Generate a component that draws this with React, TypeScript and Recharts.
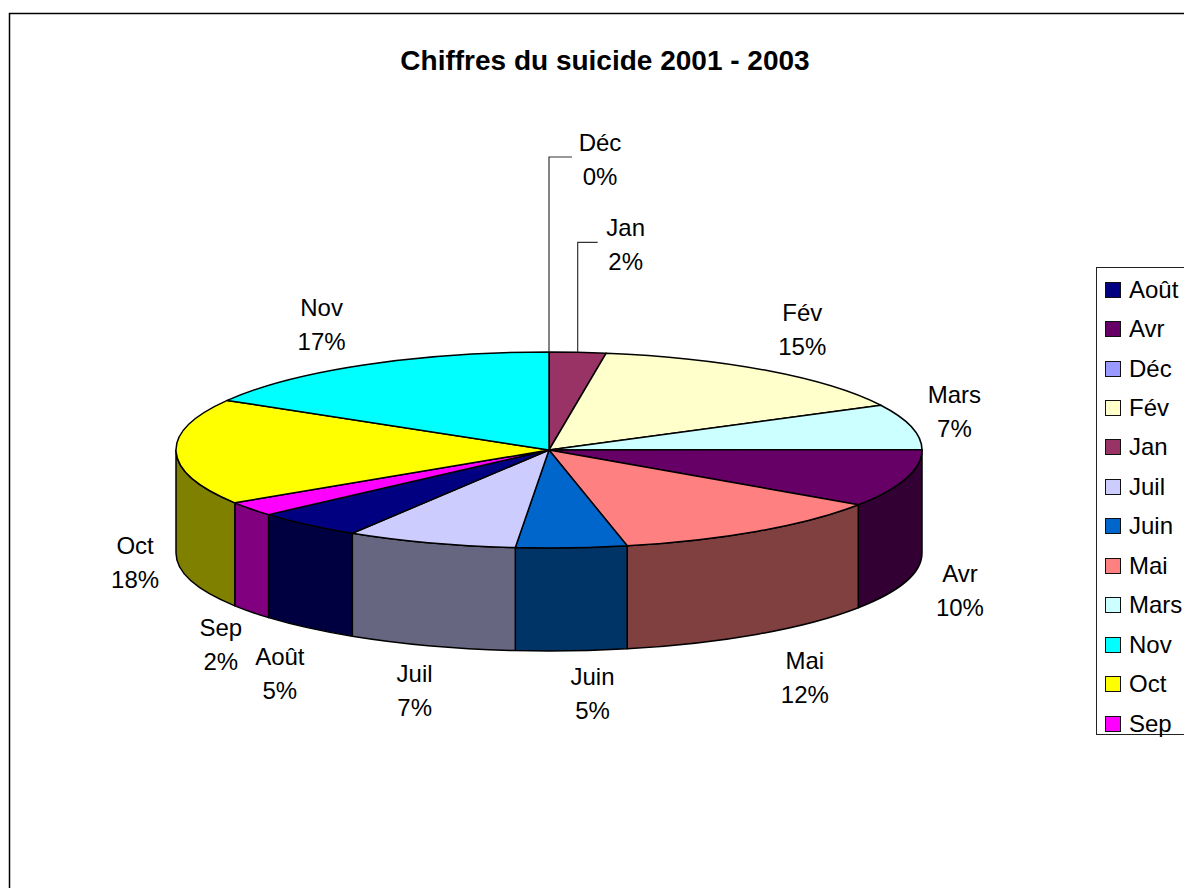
import { PieChart, Pie, Legend } from 'recharts'

const months = ['Déc', 'Jan', 'Fév', 'Mars', 'Avr', 'Mai', 'Juin', 'Juil', 'Août', 'Sep', 'Oct', 'Nov']
const shares = [0, 2.45, 15, 7.49, 9.5, 12.2, 4.8, 7.4, 4.7, 2.4, 17.5, 16.56]
const topColors = ['#9999FF', '#993366', '#FFFFCC', '#CCFFFF', '#660066', '#FF8080', '#0066CC', '#CCCCFF', '#000080', '#FF00FF', '#FFFF00', '#00FFFF']
const wallColors = ['#4D4D80', '#4D1A33', '#808066', '#668080', '#330033', '#804040', '#003366', '#666680', '#000040', '#800080', '#808000', '#008080']

const table = months.map((name, i) => ({ name, value: shares[i], fill: topColors[i], wall: wallColors[i] }))

// layout of the tilted pie, label nudges are measured from the rim point of each slice
const FONT = 'Arial, "Liberation Sans", sans-serif'
const CX = 549
const CY = 450
const RX = 373
const RY = 98
const DEPTH = 103
const labelNudges = [
  [51, -193], [48, -108], [35, -42], [43, -16], [54, 112], [47, 146],
  [21, 145], [-16, 147], [-28, 148], [-30, 135], [-41, 110], [-42, -41],
]

function rim(cx: number, cy: number, rx: number, ry: number, deg: number) {
  const a = (deg * Math.PI) / 180
  return [cx + rx * Math.cos(a), cy - ry * Math.sin(a)]
}

// eslint-disable-next-line @typescript-eslint/no-explicit-any
function TiltedSlice(props: any) {
  const { cx, cy, outerRadius, startAngle, endAngle, fill, payload } = props
  if (Math.abs(startAngle - endAngle) < 0.001) return <g />
  const rx = outerRadius
  const ry = (outerRadius * RY) / RX
  const [x0, y0] = rim(cx, cy, rx, ry, startAngle)
  const [x1, y1] = rim(cx, cy, rx, ry, endAngle)
  const large = Math.abs(startAngle - endAngle) > 180 ? 1 : 0
  const top = `M${cx},${cy} L${x0},${y0} A${rx},${ry} 0 ${large} 1 ${x1},${y1} Z`

  // only the front half of the rim shows a wall (math angles 0 to -180)
  const wallStart = Math.min(startAngle, 0)
  const wallEnd = Math.max(endAngle, -180)
  let wall = null
  if (wallStart > wallEnd) {
    const [a0, b0] = rim(cx, cy, rx, ry, wallStart)
    const [a1, b1] = rim(cx, cy, rx, ry, wallEnd)
    wall = (
      <path
        d={`M${a0},${b0} A${rx},${ry} 0 0 1 ${a1},${b1} L${a1},${b1 + DEPTH} A${rx},${ry} 0 0 0 ${a0},${b0 + DEPTH} Z`}
        fill={payload?.wall ?? props.wall}
        stroke="#000"
        strokeWidth={1.5}
        strokeLinejoin="round"
      />
    )
  }
  return (
    <g>
      {wall}
      <path d={top} fill={fill} stroke="#000" strokeWidth={1.5} strokeLinejoin="round" />
    </g>
  )
}

// eslint-disable-next-line @typescript-eslint/no-explicit-any
function SliceLabel(props: any) {
  const { cx, cy, outerRadius, midAngle, percent, name, index } = props
  const ry = (outerRadius * RY) / RX
  const [px, py] = rim(cx, cy, outerRadius, ry, midAngle)
  const [dx, dy] = labelNudges[index]
  const x = px + dx
  const y = py + dy
  return (
    <g>
      {index < 2 && (
        <polyline points={`${px},${py} ${px},${y - 2} ${x - 28},${y - 2}`} fill="none" stroke="#333" strokeWidth={1.2} />
      )}
      <text x={x} y={y - 8} textAnchor="middle" fontFamily={FONT} fontSize={24} fill="#000">{name}</text>
      <text x={x} y={y + 26} textAnchor="middle" fontFamily={FONT} fontSize={24} fill="#000">{Math.round(percent * 100)}%</text>
    </g>
  )
}

// eslint-disable-next-line @typescript-eslint/no-explicit-any
function BoxLegend({ payload }: any) {
  return (
    <div style={{ width: 130, height: 468, border: '1.5px solid #222', boxSizing: 'border-box', paddingTop: 2, background: '#fff' }}>
      {/* eslint-disable-next-line @typescript-eslint/no-explicit-any */}
      {(payload ?? []).map((item: any) => (
        <div key={item.value} style={{ height: 39.45, display: 'flex', alignItems: 'center', fontFamily: FONT, fontSize: 24, color: '#000' }}>
          <span style={{ width: 16, height: 16, marginLeft: 8, marginRight: 8, boxSizing: 'border-box', border: '1.5px solid #111', background: item.color }} />
          {item.value}
        </div>
      ))}
    </div>
  )
}

export default function App() {
  return (
    <div style={{ position: 'fixed', left: 0, top: 0, width: 1184, height: 888, overflow: 'hidden', background: '#fff' }}>
      <PieChart width={1400} height={1100} margin={{ top: 0, right: 0, bottom: 0, left: 0 }}>
        <rect x={9.5} y={13.5} width={1500} height={1200} fill="none" stroke="#000" strokeWidth={1.5} />
        <text x={605} y={70} textAnchor="middle" fontFamily={FONT} fontSize={28} fontWeight="bold" fill="#000">
          Chiffres du suicide 2001 - 2003
        </text>
        <Legend content={<BoxLegend />} wrapperStyle={{ left: 1096, top: 267, width: 130 }} />
        <Pie
          data={table}
          dataKey="value"
          nameKey="name"
          cx={CX}
          cy={CY}
          outerRadius={RX}
          startAngle={90}
          endAngle={-270}
          stroke="#000"
          shape={TiltedSlice}
          label={SliceLabel}
          labelLine={false}
          isAnimationActive={false}
        />
      </PieChart>
    </div>
  )
}
